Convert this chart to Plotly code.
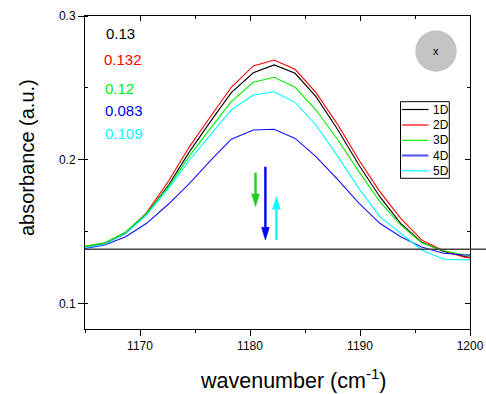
import plotly.graph_objects as go

# ---------------- data ----------------
wavenumber = [1164.9, 1166.8, 1168.7, 1170.6, 1172.6, 1174.5, 1176.4, 1178.3, 1180.3, 1182.2,
              1184.1, 1186.0, 1188.0, 1189.9, 1191.8, 1193.7, 1195.6, 1197.6, 1199.5, 1201.4]

abs_1D = [0.1395, 0.1418, 0.1490, 0.1625, 0.1826, 0.2058, 0.2266, 0.2468, 0.2606, 0.2660,
          0.2602, 0.2440, 0.2208, 0.1965, 0.1745, 0.1560, 0.1430, 0.1365, 0.1330, 0.1310]
abs_2D = [0.1395, 0.1420, 0.1495, 0.1634, 0.1854, 0.2093, 0.2300, 0.2505, 0.2653, 0.2694,
          0.2630, 0.2468, 0.2243, 0.2000, 0.1780, 0.1595, 0.1445, 0.1370, 0.1325, 0.1305]
abs_3D = [0.1400, 0.1425, 0.1500, 0.1630, 0.1815, 0.2028, 0.2220, 0.2405, 0.2540, 0.2574,
          0.2505, 0.2347, 0.2139, 0.1919, 0.1710, 0.1549, 0.1425, 0.1370, 0.1340, 0.1330]
abs_4D = [0.1385, 0.1410, 0.1467, 0.1560, 0.1694, 0.1838, 0.1995, 0.2144, 0.2208, 0.2213,
          0.2150, 0.2023, 0.1861, 0.1700, 0.1560, 0.1467, 0.1395, 0.1352, 0.1340, 0.1345]
abs_5D = [0.1390, 0.1415, 0.1490, 0.1618, 0.1803, 0.2000, 0.2174, 0.2347, 0.2451, 0.2474,
          0.2400, 0.2243, 0.2023, 0.1803, 0.1606, 0.1490, 0.1375, 0.1310, 0.1305, 0.1315]

series_names = ["1D", "2D", "3D", "4D", "5D"]
series_values = [abs_1D, abs_2D, abs_3D, abs_4D, abs_5D]
series_colors = ["#000000", "#ff0000", "#00ee00", "#1010ff", "#00ffff"]

peak_labels = ["0.13", "0.132", "0.12", "0.083", "0.109"]
peak_label_colors = ["#000000", "#ff0000", "#00ee00", "#0000ff", "#00ffff"]

baseline_value = 0.138

# arrows: (x, y_tail, y_tip, colour)
arrows = [
    (1180.5, 0.1912, 0.1676, "#22cc22"),
    (1181.4, 0.1953, 0.1444, "#0000ff"),
    (1182.4, 0.1444, 0.1745, "#00ffff"),
]

x_range = [1165, 1200]
y_range = [0.0826, 0.3]
x_ticks = [1170, 1180, 1190, 1200]
y_ticks = [0.1, 0.2, 0.3]

# ---------------- layout helpers ----------------
W, H = 486, 394
ML, MR, MT, MB = 85, 16, 16, 65
PW, PH = W - ML - MR, H - MT - MB
FONT = "Arial, 'Liberation Sans', sans-serif"


def px(x):
    """pixel x -> paper coordinate"""
    return (x - ML) / PW


def py(y):
    """pixel y -> paper coordinate"""
    return (H - MB - y) / PH


fig = go.Figure()
for name, vals, col in zip(series_names, series_values, series_colors):
    fig.add_trace(go.Scatter(x=wavenumber, y=vals, mode="lines", name=name,
                             line=dict(color=col, width=1.1), showlegend=False))

# dummy trace for mirrored (inward-tick) axes
fig.add_trace(go.Scatter(x=[None], y=[None], xaxis="x2", yaxis="y2", showlegend=False, hoverinfo="skip"))

shapes = []
annotations = []

# baseline
shapes.append(dict(type="line", xref="paper", yref="y", x0=0, x1=px(486), y0=baseline_value,
                   y1=baseline_value, line=dict(color="#444444", width=1.3), layer="above"))

# arrows
head_len = 0.0088
head_half = 0.36
for ax_, yt, yh, col in arrows:
    d = 1 if yh > yt else -1
    base = yh - d * head_len
    shapes.append(dict(type="line", xref="x", yref="y", x0=ax_, x1=ax_, y0=yt, y1=base,
                       line=dict(color=col, width=2.4)))
    shapes.append(dict(type="path", xref="x", yref="y",
                       path=f"M {ax_ - head_half},{base} L {ax_ + head_half},{base} L {ax_},{yh} Z",
                       fillcolor=col, line=dict(color=col, width=0.5)))

# grey circle with x
cx, cy, r = 436, 51, 20.7
shapes.append(dict(type="circle", xref="paper", yref="paper",
                   x0=px(cx - r), x1=px(cx + r), y0=py(cy + r), y1=py(cy - r),
                   fillcolor="#c3c3c3", line=dict(width=0)))
annotations.append(dict(x=px(cx), y=py(cy), xref="paper", yref="paper", text="x", showarrow=False,
                        font=dict(family=FONT, size=11, color="black"), xanchor="center", yanchor="middle"))

# peak value labels
label_y = [34, 59.3, 88.3, 110, 133.3]
label_x = [104, 101.7, 103.3, 103.3, 102.7]
for t, c, lx, ly in zip(peak_labels, peak_label_colors, label_x, label_y):
    annotations.append(dict(x=px(lx), y=py(ly), xref="paper", yref="paper", text=t, showarrow=False,
                            font=dict(family=FONT, size=15, color=c), xanchor="left", yanchor="middle"))

# manual legend
shapes.append(dict(type="rect", xref="paper", yref="paper", x0=px(400.5), x1=px(449.3),
                   y0=py(178.3), y1=py(101.7), line=dict(color="black", width=1), fillcolor="white",
                   layer="above"))
leg_y = [109.5, 125, 140.3, 155.5, 170.8]
for name, col, ly in zip(series_names, series_colors, leg_y):
    lw = 2.2 if name == "4D" else 1.2
    lc = "#5a5aff" if name == "4D" else col
    shapes.append(dict(type="line", xref="paper", yref="paper", x0=px(402), x1=px(428.5),
                       y0=py(ly), y1=py(ly), line=dict(color=lc, width=lw), layer="above"))
    annotations.append(dict(x=px(431), y=py(ly), xref="paper", yref="paper", text=name, showarrow=False,
                            font=dict(family=FONT, size=12, color="black"), xanchor="left", yanchor="middle"))

# axis titles
annotations.append(dict(x=px(27), y=py(158), xref="paper", yref="paper", text="absorbance (a.u.)",
                        textangle=-90, showarrow=False, font=dict(family=FONT, size=20, color="black"),
                        xanchor="center", yanchor="middle"))
annotations.append(dict(x=px(293), y=py(379), xref="paper", yref="paper",
                        text="wavenumber (cm<sup>-1</sup>)", showarrow=False,
                        font=dict(family=FONT, size=21.5, color="black"), xanchor="center", yanchor="middle"))

axis_common = dict(showgrid=False, zeroline=False, showline=True, linecolor="black", linewidth=1,
                   tickcolor="black", tickwidth=1, automargin=False,
                   tickfont=dict(family=FONT, size=12, color="black"))

fig.update_layout(
    template="none",
    width=W, height=H, autosize=False,
    margin=dict(l=ML, r=MR, t=MT, b=MB, pad=0),
    paper_bgcolor="white", plot_bgcolor="white",
    showlegend=False,
    font=dict(family=FONT, color="black"),
    xaxis=dict(range=x_range, tickvals=x_ticks, ticks="outside", ticklen=6,
               minor=dict(dtick=5, tick0=1165, ticks="outside", ticklen=3, tickcolor="black"),
               **axis_common),
    yaxis=dict(range=y_range, tickvals=y_ticks, ticks="outside", ticklen=6,
               minor=dict(dtick=0.05, tick0=0.1, ticks="inside", ticklen=3, tickcolor="black"),
               **axis_common),
    xaxis2=dict(range=x_range, overlaying="x", side="top", anchor="y", tickvals=x_ticks, ticks="inside",
                ticklen=5, showticklabels=False,
                minor=dict(dtick=5, tick0=1165, ticks="inside", ticklen=3, tickcolor="black"),
                **axis_common),
    yaxis2=dict(range=y_range, overlaying="y", side="right", anchor="x", tickvals=y_ticks, ticks="inside",
                ticklen=5, showticklabels=False,
                minor=dict(dtick=0.05, tick0=0.1, ticks="inside", ticklen=3, tickcolor="black"),
                **axis_common),
    shapes=shapes,
    annotations=annotations,
)

fig.write_html("out.html",
               config={"displayModeBar": False, "responsive": False},
               post_script="document.body.style.margin='0';document.body.style.overflow='hidden';")
